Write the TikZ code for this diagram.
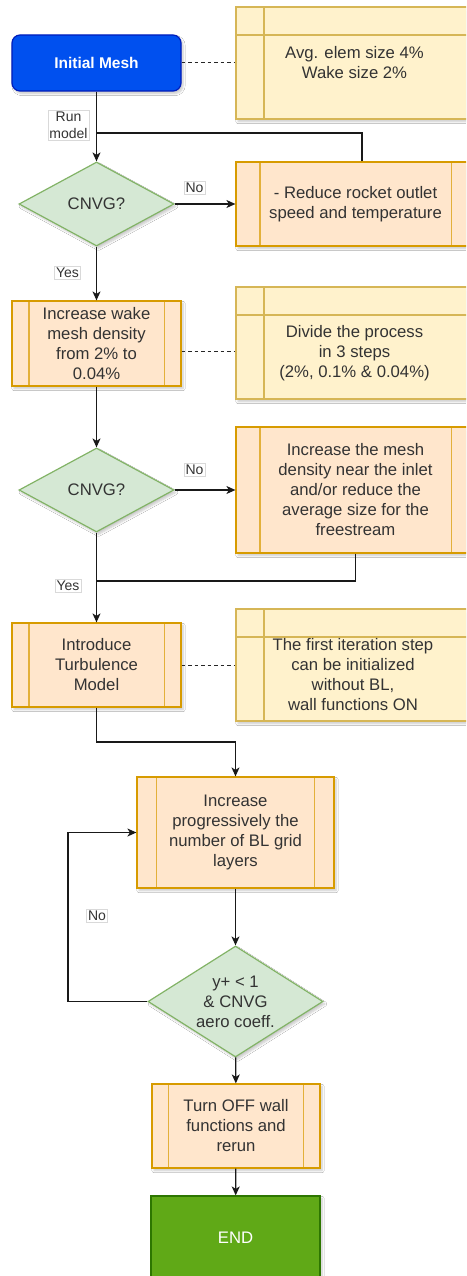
\documentclass[tikz,border=0pt]{standalone}
\usepackage{fontspec}
\setmainfont{Liberation Sans}
\usetikzlibrary{arrows.meta,shapes.geometric,calc,shadows.blur}
\definecolor{blueF}{HTML}{0050EF}
\definecolor{blueS}{HTML}{001DBC}
\definecolor{orF}{HTML}{FFE6CC}
\definecolor{orS}{HTML}{D79B00}
\definecolor{orBar}{HTML}{E3B03A}
\definecolor{yeF}{HTML}{FFF2CC}
\definecolor{yeS}{HTML}{D6B656}
\definecolor{grF}{HTML}{D5E8D4}
\definecolor{grS}{HTML}{82B366}
\definecolor{endF}{HTML}{60A917}
\definecolor{endS}{HTML}{2D7600}
\definecolor{txt}{HTML}{333333}
\tikzset{
  base/.style={font=\fontsize{16.7}{20}\selectfont, text=txt, align=center, inner sep=0pt, line width=1.2pt},
  shade/.style={blur shadow={shadow xshift=2pt, shadow yshift=-2.5pt, shadow opacity=22, shadow blur steps=6}},
  proc/.style={base, shade, rectangle, draw=orS, fill=orF,
    path picture={\draw[orBar, line width=1.2pt]
      ($(path picture bounding box.north west)!0.1!(path picture bounding box.north east)$) --
      ($(path picture bounding box.south west)!0.1!(path picture bounding box.south east)$)
      ($(path picture bounding box.north east)!0.1!(path picture bounding box.north west)$) --
      ($(path picture bounding box.south east)!0.1!(path picture bounding box.south west)$);}},
  note/.style={base, shade, rectangle, draw=yeS, fill=yeF,
    path picture={\draw[yeS, line width=1.2pt]
      ([xshift=28pt]path picture bounding box.north west) -- ([xshift=28pt]path picture bounding box.south west)
      ([yshift=-28pt]path picture bounding box.north west) -- ([yshift=-28pt]path picture bounding box.north east);}},
  notetext/.style={base},
  decision/.style={base, shade, diamond, draw=grS, fill=grF},
  lbl/.style={font=\fontsize{14}{17}\selectfont, text=txt, align=center, fill=white, draw=black!15, line width=0.5pt, inner sep=1.5pt},
  conn/.style={draw=black!90, line width=1.2pt},
  arr/.style={conn, -{Stealth[length=9pt,width=8pt,inset=2.5pt]}},
  assoc/.style={draw=black!85, line width=1pt, dash pattern=on 3.5pt off 3pt},
}
\begin{document}
\begin{tikzpicture}[x=1pt,y=-1pt]
\useasboundingbox (0,0) rectangle (466,1276);
\clip (0,0) rectangle (466,1276);
\fill[white] (0,0) rectangle (466,1276);

% nodes
\node[base, shade, rectangle, rounded corners=8pt, draw=blueS, fill=blueF, text=white,
      font=\fontsize{15.5}{18}\selectfont\bfseries, minimum width=169pt, minimum height=56pt] (init) at (96.5,63) {Initial Mesh};
\node[note, minimum width=239pt, minimum height=112pt] (n1) at (355.5,63) {};
\node[notetext] (n1t) at (354.5,63) {Avg. elem size 4\%\\Wake size 2\%};

\node[decision, minimum width=155pt, minimum height=84pt, aspect=1.85] (d1) at (96.5,204) {CNVG?};
\node[proc, minimum width=239pt, minimum height=84pt] (red) at (355.5,204) {- Reduce rocket outlet\\speed and temperature};

\node[proc, minimum width=169pt, minimum height=85pt] (b2) at (96.5,343.5) {Increase wake\\mesh density\\from 2\% to\\0.04\%};
\node[note, minimum width=239pt, minimum height=112pt] (n2) at (355.5,343) {};
\node[notetext] (n2t) at (354.5,353) {Divide the process\\in 3 steps\\(2\%, 0.1\% \& 0.04\%)};

\node[decision, minimum width=155pt, minimum height=84pt, aspect=1.85] (d2) at (96.5,490) {CNVG?};
\node[proc, minimum width=239pt, minimum height=126pt] (b3) at (355.5,490) {Increase the mesh\\density near the inlet\\and/or reduce the\\average size for the\\freestream};

\node[proc, minimum width=169pt, minimum height=84pt] (b4) at (96.5,665) {Introduce\\Turbulence\\Model};
\node[note, minimum width=239pt, minimum height=112pt] (n3) at (355.5,665) {};
\node[notetext] (n3t) at (353,675) {The first iteration step\\can be initialized\\without BL,\\wall functions ON};

\node[proc, minimum width=197pt, minimum height=111pt] (b5) at (235.5,832.5) {Increase\\progressively the\\number of BL grid\\layers};
\node[decision, minimum width=175pt, minimum height=111pt, aspect=1.577] (d3) at (235.5,1001.5) {y+ < 1\\\& CNVG\\aero coeff.};
\node[proc, minimum width=168pt, minimum height=84pt] (b6) at (236,1126) {Turn OFF wall\\functions and\\rerun};
\node[base, shade, rectangle, draw=endS, fill=endF, text=white, minimum width=169pt, minimum height=84pt] (end) at (235.5,1238) {END};

% helper coordinates
\coordinate (j1) at (362,133);
\coordinate (j2) at (96.5,581);
\coordinate (j3) at (96.5,742);
\coordinate (j4) at (68,1001.5);
\coordinate (ds2) at (0,351);

% connectors
\draw[arr] (init) -- (d1);
\draw[conn] (red.north -| j1) -- (j1) -- (j1 -| init);
\draw[arr] (d1) -- (red);
\draw[arr] (d1) -- (b2);
\draw[arr] (b2) -- (d2);
\draw[arr] (d2) -- (b3);
\draw[conn] (b3.south) |- (j2);
\draw[arr] (d2) -- (b4);
\draw[arr] (b4) -- (j3) -| (b5);
\draw[arr] (b5) -- (d3);
\draw[arr] (d3.west) -- (j4) |- (b5.west);
\draw[arr] (d3) -- (b6);
\draw[arr] (b6) -- (end);

% dashed associations
\draw[assoc] (init.east) -- (n1.west |- init.east);
\draw[assoc] (b2.east |- ds2) -- (n2.west |- ds2);
\draw[assoc] (b4.east) -- (n3.west |- b4.east);

% edge labels
\node[lbl] (lrun) at (68.5,125) {Run\\model};
\node[lbl] (lno1) at (194.5,188) {No};
\node[lbl] (lyes1) at (67.5,273) {Yes};
\node[lbl] (lno2) at (194.5,469.5) {No};
\node[lbl] (lyes2) at (68,586) {Yes};
\node[lbl] (lno3) at (97,915.5) {No};
\end{tikzpicture}
\end{document}
